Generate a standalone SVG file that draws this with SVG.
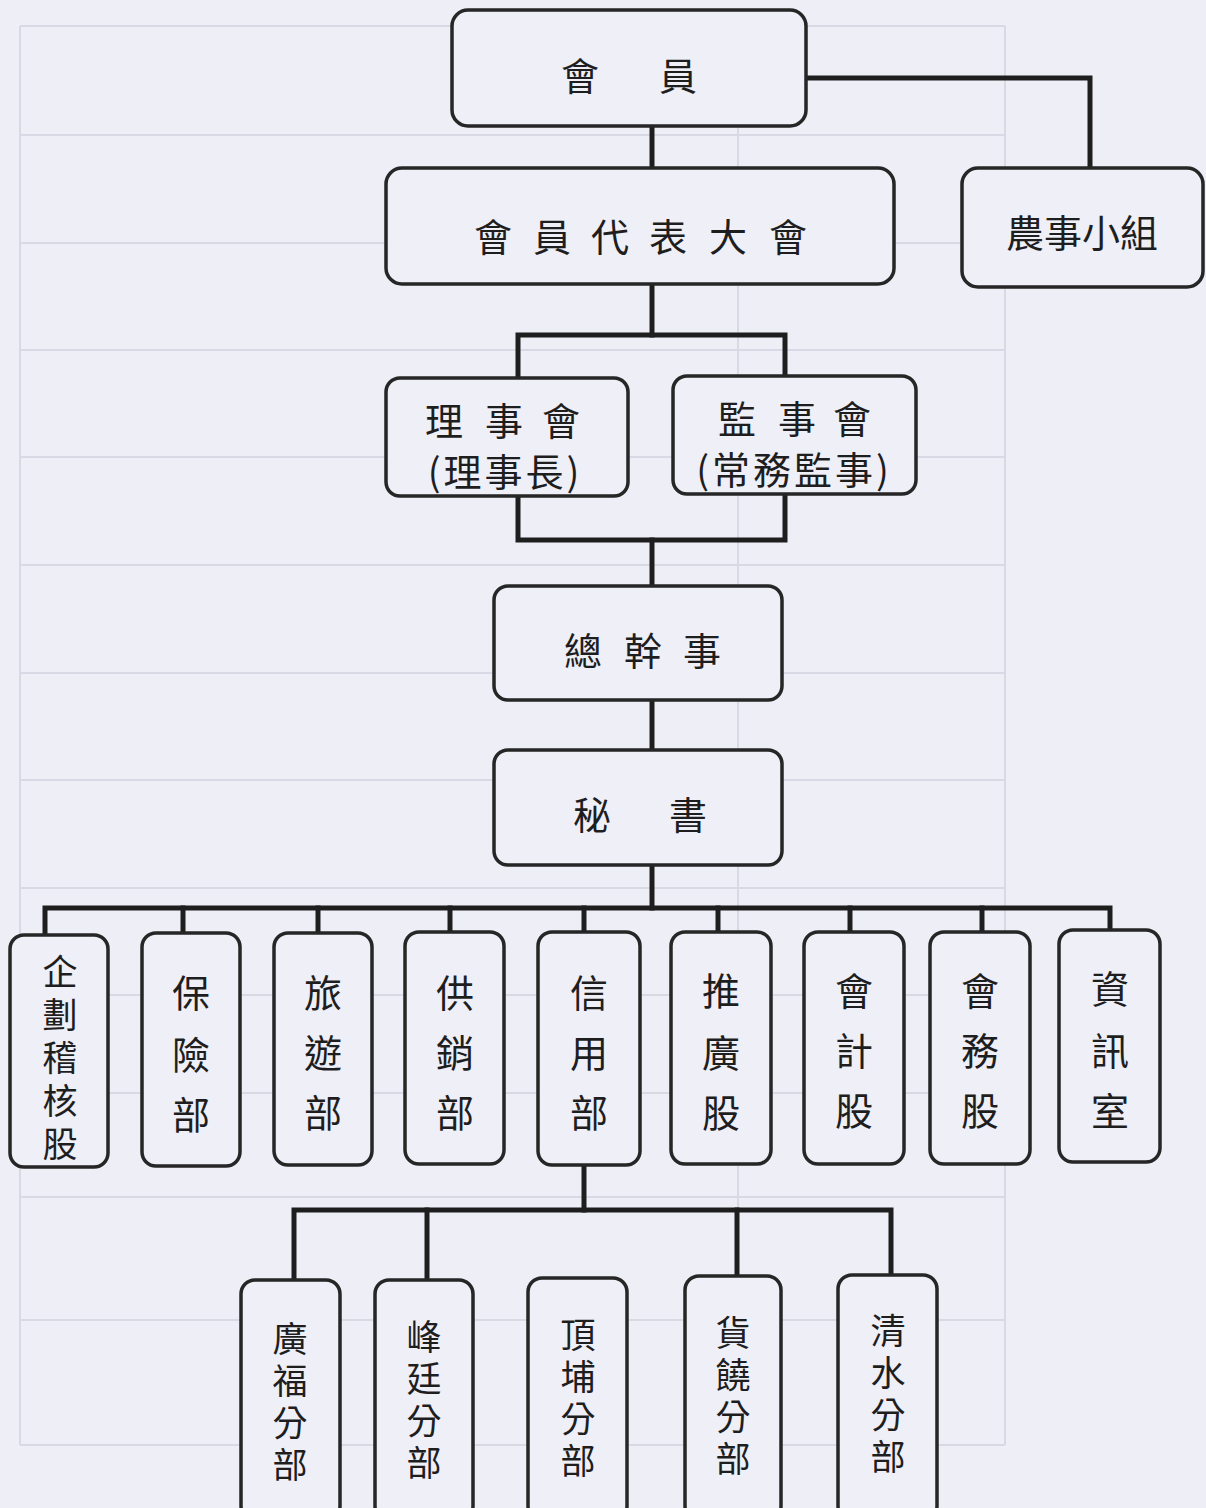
<svg xmlns="http://www.w3.org/2000/svg" width="1206" height="1508" viewBox="0 0 1206 1508">
<style>
.bg{fill:#eeeef7}
.grid line{stroke:#d9d9e6;stroke-width:2}
.node rect{fill:#efeff8;stroke:#262626;stroke-width:3.5}
.node text{font-family:"Noto Sans CJK TC","Noto Sans CJK SC",sans-serif;font-size:38px;fill:#1e1e1e;text-anchor:middle;dominant-baseline:central}
.node text.s{font-size:35px}
#connectors path{fill:none;stroke:#1e1e1e;stroke-width:5;stroke-linejoin:miter;stroke-linecap:square}
</style>
<rect class="bg" x="0" y="0" width="1206" height="1508"/>
<g class="grid">
<line x1="20" y1="26" x2="1005" y2="26"/>
<line x1="20" y1="135" x2="1005" y2="135"/>
<line x1="20" y1="243" x2="1005" y2="243"/>
<line x1="20" y1="350" x2="1005" y2="350"/>
<line x1="20" y1="457" x2="1005" y2="457"/>
<line x1="20" y1="565" x2="1005" y2="565"/>
<line x1="20" y1="673" x2="1005" y2="673"/>
<line x1="20" y1="780" x2="1005" y2="780"/>
<line x1="20" y1="888" x2="1005" y2="888"/>
<line x1="20" y1="995" x2="1005" y2="995"/>
<line x1="20" y1="1093" x2="1005" y2="1093"/>
<line x1="20" y1="1197" x2="1005" y2="1197"/>
<line x1="20" y1="1320" x2="1005" y2="1320"/>
<line x1="20" y1="1445" x2="1005" y2="1445"/>
<line x1="20" y1="26" x2="20" y2="1445"/>
<line x1="738" y1="26" x2="738" y2="1445"/>
<line x1="1005" y1="26" x2="1005" y2="1445"/>
</g>
<g id="connectors">
<path d="M806 78 H1090 V168"/>
<path d="M652 126 V168"/>
<path d="M652 284 V335"/>
<path d="M518 378 V335 H785 V376"/>
<path d="M518 496 V540 H785 V494"/>
<path d="M652 540 V586"/>
<path d="M652 700 V750"/>
<path d="M652 865 V908"/>
<path d="M45 935 V908 H1110 V932"/>
<path d="M183 908 V932"/>
<path d="M318 908 V932"/>
<path d="M450 908 V932"/>
<path d="M584 908 V932"/>
<path d="M718 908 V932"/>
<path d="M850 908 V932"/>
<path d="M982 908 V932"/>
<path d="M584 1165 V1210"/>
<path d="M294 1280 V1210 H891 V1278"/>
<path d="M427 1210 V1280"/>
<path d="M737 1210 V1280"/>
</g>
<g id="n-huiyuan" class="node"><rect x="452" y="10" width="354" height="116" rx="16"/><text x="580 678" y="73">會員</text></g>
<g id="n-nongshi" class="node"><rect x="962" y="168" width="241" height="119" rx="16"/><text x="1082" y="230" font-size="40">農事小組</text></g>
<g id="n-daibiao" class="node"><rect x="386" y="168" width="508" height="116" rx="16"/><text x="493 552 610 668 728 788" y="234">會員代表大會</text></g>
<g id="n-lishi" class="node"><rect x="386" y="378" width="242" height="118" rx="14"/><text x="444 504 561" y="418">理事會</text><text x="505" y="469" letter-spacing="3">(理事長)</text></g>
<g id="n-jianshi" class="node"><rect x="673" y="376" width="243" height="118" rx="14"/><text x="737 797 852" y="416">監事會</text><text x="794" y="467" letter-spacing="3">(常務監事)</text></g>
<g id="n-zongganshi" class="node"><rect x="494" y="586" width="288" height="114" rx="14"/><text x="583 643 702" y="648">總幹事</text></g>
<g id="n-mishu" class="node"><rect x="494" y="750" width="288" height="115" rx="14"/><text x="592 688" y="812">秘書</text></g>
<g id="n-qihua" class="node"><rect x="10" y="935" width="98" height="232" rx="14"/><text class="s" x="60" y="969">企</text><text class="s" x="60" y="1012">劃</text><text class="s" x="60" y="1055">稽</text><text class="s" x="60" y="1098">核</text><text class="s" x="60" y="1141">股</text></g>
<g id="n-baoxian" class="node"><rect x="142" y="933" width="98" height="233" rx="14"/><text x="191" y="990">保</text><text x="191" y="1052">險</text><text x="191" y="1112">部</text></g>
<g id="n-lvyou" class="node"><rect x="274" y="933" width="98" height="232" rx="14"/><text x="323" y="990">旅</text><text x="323" y="1050">遊</text><text x="323" y="1110">部</text></g>
<g id="n-gongxiao" class="node"><rect x="405" y="932" width="99" height="232" rx="14"/><text x="455" y="990">供</text><text x="455" y="1050">銷</text><text x="455" y="1110">部</text></g>
<g id="n-xinyong" class="node"><rect x="538" y="932" width="102" height="233" rx="14"/><text x="589" y="990">信</text><text x="589" y="1050">用</text><text x="589" y="1110">部</text></g>
<g id="n-tuiguang" class="node"><rect x="671" y="932" width="100" height="232" rx="14"/><text x="721" y="988">推</text><text x="721" y="1050">廣</text><text x="721" y="1110">股</text></g>
<g id="n-kuaiji" class="node"><rect x="804" y="932" width="100" height="232" rx="14"/><text x="854" y="988">會</text><text x="854" y="1048">計</text><text x="854" y="1108">股</text></g>
<g id="n-huiwu" class="node"><rect x="930" y="932" width="100" height="232" rx="14"/><text x="980" y="988">會</text><text x="980" y="1048">務</text><text x="980" y="1108">股</text></g>
<g id="n-zixun" class="node"><rect x="1059" y="930" width="101" height="232" rx="14"/><text x="1110" y="986">資</text><text x="1110" y="1048">訊</text><text x="1110" y="1108">室</text></g>
<g id="n-guangfu" class="node"><rect x="241" y="1280" width="99" height="240" rx="14"/><text class="s" x="290" y="1336">廣</text><text class="s" x="290" y="1378">福</text><text class="s" x="290" y="1420">分</text><text class="s" x="290" y="1462">部</text></g>
<g id="n-fengting" class="node"><rect x="375" y="1280" width="98" height="240" rx="14"/><text class="s" x="424" y="1334">峰</text><text class="s" x="424" y="1376">廷</text><text class="s" x="424" y="1418">分</text><text class="s" x="424" y="1460">部</text></g>
<g id="n-dingpu" class="node"><rect x="528" y="1278" width="99" height="242" rx="14"/><text class="s" x="578" y="1332">頂</text><text class="s" x="578" y="1374">埔</text><text class="s" x="578" y="1416">分</text><text class="s" x="578" y="1458">部</text></g>
<g id="n-huorao" class="node"><rect x="685" y="1276" width="96" height="244" rx="14"/><text class="s" x="733" y="1330">貨</text><text class="s" x="733" y="1372">饒</text><text class="s" x="733" y="1414">分</text><text class="s" x="733" y="1456">部</text></g>
<g id="n-qingshui" class="node"><rect x="838" y="1275" width="99" height="245" rx="14"/><text class="s" x="888" y="1328">清</text><text class="s" x="888" y="1370">水</text><text class="s" x="888" y="1412">分</text><text class="s" x="888" y="1454">部</text></g>
</svg>
